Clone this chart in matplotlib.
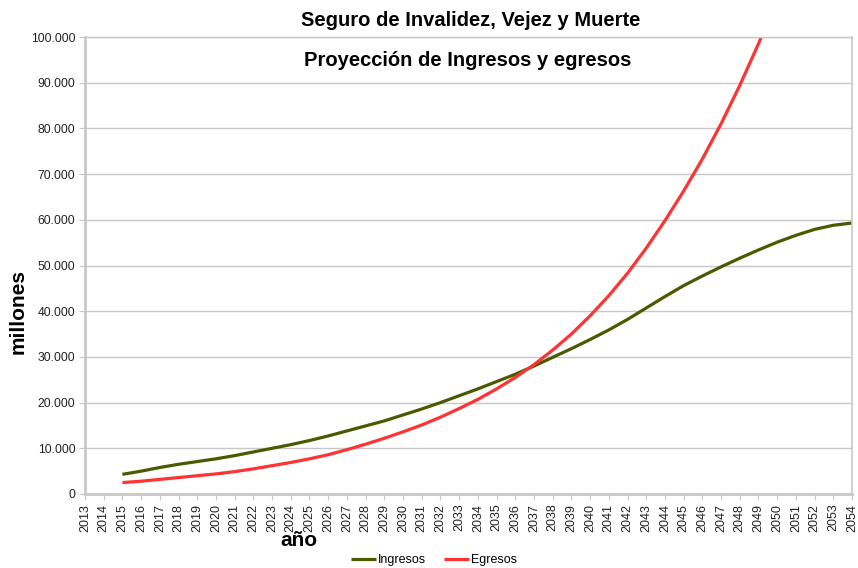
import numpy as np
from matplotlib import pyplot as plt
from matplotlib.ticker import FuncFormatter

plt.rcParams['font.family'] = ['Liberation Sans', 'DejaVu Sans']

# years shown on the category axis
years = list(range(2013, 2055))

# series start in 2015 (millones)
data_years = list(range(2015, 2055))
ingresos = [4300, 5000, 5800, 6500, 7100, 7700, 8400, 9200, 10000, 10800,
            11700, 12700, 13800, 14900, 16000, 17300, 18600, 20000, 21500, 23000,
            24600, 26200, 28000, 29900, 31800, 33800, 35900, 38200, 40700, 43200,
            45600, 47700, 49700, 51600, 53400, 55100, 56600, 57900, 58800, 59300]
egresos = [2500, 2800, 3200, 3600, 4000, 4400, 4900, 5500, 6200, 6900,
           7700, 8600, 9700, 10900, 12200, 13600, 15100, 16800, 18700, 20700,
           23000, 25500, 28300, 31500, 35000, 39000, 43400, 48300, 53800, 59800,
           66300, 73300, 81000, 89400, 98500, 108500, 119000, 130000, 142000, 155000]

green = '#4b5a00'
red = '#ff3333'
grey = '#c8c8c8'

fig = plt.figure(figsize=(8.58, 5.68), dpi=100)
ax = fig.add_axes([85/858, 74/568, 767/858, 457/568])

ax.plot(data_years, ingresos, color=green, lw=2.3, label='Ingresos', solid_capstyle='butt')
ax.plot(data_years, egresos, color=red, lw=2.3, label='Egresos', solid_capstyle='butt')

ax.set_xlim(2013, 2054)
ax.set_ylim(0, 100000)
ax.set_xticks(years)
ax.set_xticklabels([str(y) for y in years], rotation=90, fontsize=9, color='#222222')
ax.set_yticks(np.arange(0, 100001, 10000))
ax.yaxis.set_major_formatter(FuncFormatter(lambda v, p: '{:,.0f}'.format(v).replace(',', '.')))
ax.tick_params(axis='y', labelsize=8.7, labelcolor='#222222', length=4, color=grey, pad=3)
ax.tick_params(axis='x', length=4, color=grey, pad=3)

ax.grid(axis='y', color=grey, lw=1)
ax.set_axisbelow(True)
for s in ['left', 'bottom']:
    ax.spines[s].set_color(grey)
    ax.spines[s].set_linewidth(2)
ax.spines['right'].set_color(grey)
ax.spines['right'].set_linewidth(1.2)
ax.spines['top'].set_color(grey)
ax.spines['top'].set_linewidth(1)

fig.text(471/858, 1 - 20/568, 'Seguro de Invalidez, Vejez y Muerte', ha='center', va='center',
         fontsize=14.5, fontweight='bold')
fig.text(468/858, 1 - 60/568, 'Proyección de Ingresos y egresos', ha='center', va='center',
         fontsize=14.5, fontweight='bold')
fig.text(18/858, 1 - 312/568, 'millones', rotation=90, ha='center', va='center',
         fontsize=15, fontweight='bold')
fig.text(299/858, 1 - 541/568, 'año', ha='center', va='center', fontsize=15, fontweight='bold')

fig.legend(loc='center', bbox_to_anchor=(434/858, 1 - 560/568), ncol=2, frameon=False,
           fontsize=9, handlelength=2.0, handletextpad=0.1, columnspacing=1.5)

fig.savefig('out.png', dpi=100)
